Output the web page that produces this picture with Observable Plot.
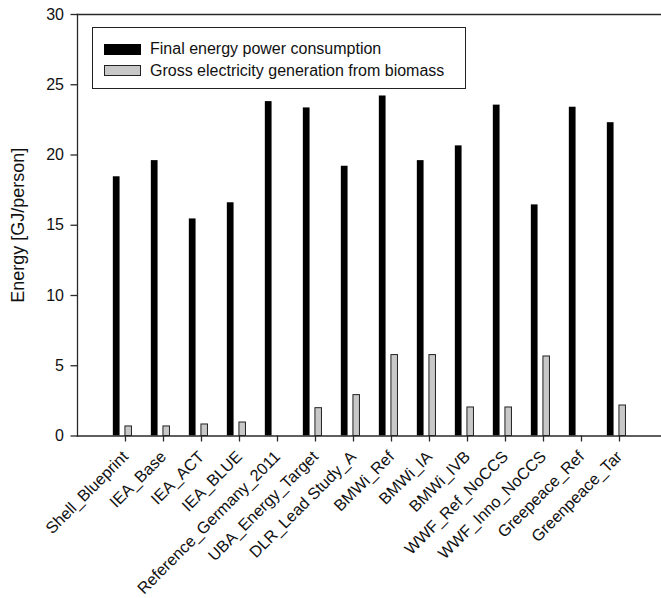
<!DOCTYPE html>
<html>
<head>
<meta charset="utf-8">
<script src="https://cdn.jsdelivr.net/npm/d3@7"></script>
<script src="https://cdn.jsdelivr.net/npm/@observablehq/plot@0.6"></script>
<style>
  html, body { margin: 0; padding: 0; background: #fff; }
  #chart { position: relative; width: 661px; height: 598px; font-family: "Liberation Sans", Arial, sans-serif; }
  #chart svg { display: block; }
  .legend { position: absolute; left: 92px; top: 27px; width: 372px; height: 60px;
            border: 1.3px solid #222; background: #fff; font-size: 16px; color: #111; }
  .legend .row { position: absolute; left: 11px; display: flex; align-items: center; height: 14px; }
  .legend .sw { width: 37px; height: 11px; margin-right: 9px; box-sizing: border-box; }
  .legend span { white-space: nowrap; }
</style>
</head>
<body>
<div id="chart"></div>
<script>
// Scenario names along the x axis
const scenarios = [
  "Shell_Blueprint", "IEA_Base", "IEA_ACT", "IEA_BLUE", "Reference_Germany_2011",
  "UBA_Energy_Target", "DLR_Lead Study_A", "BMWi_Ref", "BMWi_IA", "BMWi_IVB",
  "WWF_Ref_NoCCS", "WWF_Inno_NoCCS", "Greepeace_Ref", "Greenpeace_Tar"
];
// Final energy power consumption, GJ per person
const finalEnergy = [18.45, 19.6, 15.45, 16.6, 23.8, 23.35, 19.2, 24.2, 19.6, 20.65, 23.55, 16.45, 23.4, 22.3];
// Gross electricity generation from biomass, GJ per person (null = not reported)
const biomass = [0.68, 0.68, 0.82, 0.96, null, 1.98, 2.91, 5.76, 5.76, 2.03, 2.03, 5.66, null, 2.17];
// Series labels and y ticks
const seriesNames = ["Final energy power consumption", "Gross electricity generation from biomass"];
const yTicks = [0, 5, 10, 15, 20, 25, 30];

const rows = scenarios.map((s, i) => ({scenario: s, finalEnergy: finalEnergy[i], biomass: biomass[i]}));

const axisColor = "#2a2a2a";
const width = 661, height = 598;
const marginLeft = 77, marginRight = 1, marginTop = 14, marginBottom = 162.5;
const step = (width - marginLeft - marginRight) / (scenarios.length + 1);
const half = step / 2;

const chart = Plot.plot({
  width, height, marginLeft, marginRight, marginTop, marginBottom,
  style: {fontFamily: '"Liberation Sans", Arial, sans-serif', fontSize: "16px", color: "#111", background: "#fff", overflow: "visible"},
  x: {type: "band", domain: scenarios, paddingInner: 0, paddingOuter: 0.5, label: null},
  y: {domain: [0, 30], ticks: yTicks, label: null},
  marks: [
    Plot.barY(rows, {x: "scenario", y: "finalEnergy", fill: "#000",
      insetLeft: half - 9.6, insetRight: half + 2.0}),
    Plot.barY(rows.filter(d => d.biomass != null), {x: "scenario", y: "biomass", fill: "#c8c8c8",
      stroke: "#222", strokeWidth: 1, insetLeft: half + 2.5, insetRight: half - 9.9}),
    Plot.axisY({ticks: yTicks, tickSize: 6.5, tickPadding: 7, fontSize: 16, stroke: axisColor,
      strokeWidth: 1.3, fill: "#111", label: "Energy [GJ/person]", labelAnchor: "center",
      labelArrow: "none", labelOffset: 66}),
    Plot.axisX({tickSize: 6, tickPadding: 12, tickRotate: -45, fontSize: 16.2, stroke: axisColor,
      strokeWidth: 1.3, fill: "#111", label: null, dx: 3}),
    Plot.frame({anchor: "left", stroke: axisColor, strokeWidth: 1.3}),
    Plot.frame({anchor: "top", stroke: axisColor, strokeWidth: 1.5}),
    Plot.frame({anchor: "bottom", stroke: axisColor, strokeWidth: 1.3})
  ]
});

// Bump the y axis label size
chart.querySelectorAll("[aria-label='y-axis label'] text").forEach(t => t.setAttribute("font-size", 18));

const container = document.getElementById("chart");
container.appendChild(chart);

// Legend box inside the plot area
const legend = document.createElement("div");
legend.className = "legend";
const swatchStyles = [
  "background:#000;border:1px solid #000;",
  "background:#c8c8c8;border:1px solid #222;"
];
seriesNames.forEach((name, i) => {
  const row = document.createElement("div");
  row.className = "row";
  row.style.top = (14 + i * 21.5) + "px";
  const sw = document.createElement("div");
  sw.className = "sw";
  sw.setAttribute("style", swatchStyles[i]);
  const label = document.createElement("span");
  label.textContent = name;
  row.appendChild(sw);
  row.appendChild(label);
  legend.appendChild(row);
});
container.appendChild(legend);
</script>
</body>
</html>
